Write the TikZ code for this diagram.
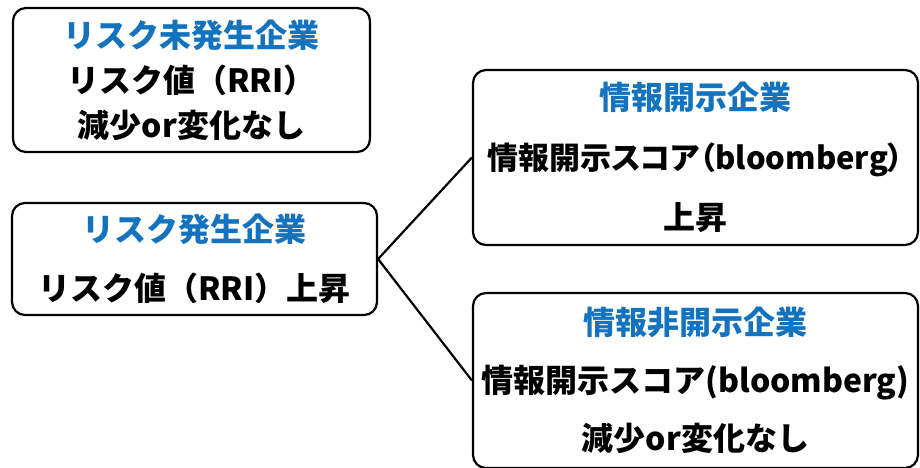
\documentclass[tikz,border=0pt]{standalone}
\usepackage{fontspec}
\setmainfont{Noto Sans CJK JP}
\definecolor{kigyoblue}{RGB}{20,115,190}

\begin{document}
\begin{tikzpicture}[x=1pt,y=-1pt,
    kigyo/.style={draw, line width=2.2pt, rounded corners=13pt, align=center,
      inner sep=0pt, font=\bfseries\fontsize{32}{#1}\selectfont},
    eda/.style={line width=2.2pt}]
  \useasboundingbox (0,0) rectangle (920,467);

  \node[kigyo=45, minimum width=357pt, minimum height=144pt] (misei) at (191.5,80)
    {\textcolor{kigyoblue}{リスク未発生企業}\\リスク値（RRI）\\減少or変化なし};
  \node[kigyo=59, minimum width=365pt, minimum height=112pt] (hassei) at (194.5,259)
    {\textcolor{kigyoblue}{リスク発生企業}\\リスク値（RRI）上昇};

  \node[kigyo=60, minimum width=445pt, minimum height=175pt] (kaiji) at (695.5,157.5)
    {\textcolor{kigyoblue}{情報開示企業}\\{\fontsize{31}{60}\selectfont\addfontfeatures{RawFeature=+palt}情報開示スコア（bloomberg）}\\上昇};
  \node[kigyo=58, minimum width=445pt, minimum height=175pt] (hikaiji) at (695.5,380.5)
    {\textcolor{kigyoblue}{情報非開示企業}\\情報開示スコア(bloomberg)\\減少or変化なし};

  \draw[eda] (hassei.east) -- (kaiji.west);
  \draw[eda] (hassei.east) -- (hikaiji.west);
\end{tikzpicture}
\end{document}
